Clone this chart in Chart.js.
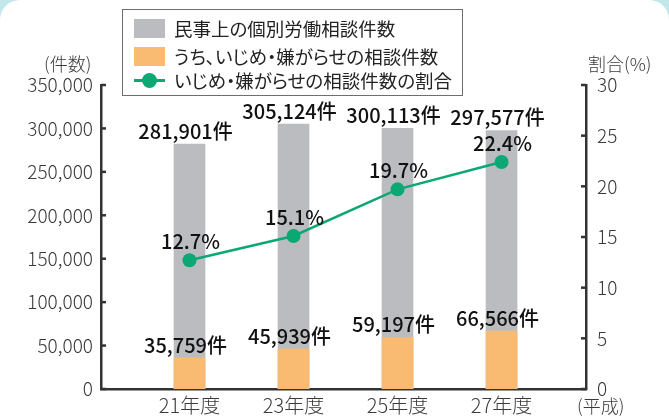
<!DOCTYPE html>
<html lang="ja">
<head>
<meta charset="utf-8">
<script src="https://cdn.jsdelivr.net/npm/chart.js@4.4.1/dist/chart.umd.min.js"></script>
<style>
  html, body { margin: 0; padding: 0; }
  body { width: 669px; height: 417px; background: #c2e7e9; position: relative; overflow: hidden;
         font-family: "Noto Sans CJK JP", "Noto Sans", sans-serif; }
  #panel { position: absolute; left: 0; top: 0; width: 669px; height: 440px; background: #fff;
           border-radius: 20px 20px 0 0; }
  #chart { position: absolute; left: 0; top: 0; }
  .note { position: absolute; color: #3a3a3a; font-size: 18px; font-weight: 300; white-space: nowrap; line-height: 1; }
  #legend { position: absolute; left: 122px; top: 9px; width: 341px; height: 87px;
            border: 1.5px solid #6e6e6e; box-sizing: border-box; background: #fff; }
  .item { position: absolute; left: 11px; height: 20px; display: flex; align-items: center;
          font-size: 18.5px; color: #222; white-space: nowrap; font-feature-settings: "palt"; }
  .item .sw { width: 31px; height: 19px; margin-right: 9px; position: relative; }
</style>
</head>
<body>
<div id="panel"></div>
<canvas id="chart" width="669" height="417"></canvas>
<div class="note" style="left:44px; top:54px;">(件数)</div>
<div class="note" style="left:588px; top:54px;">割合(%)</div>
<div class="note" style="left:577px; top:396px;">(平成)</div>
<div id="legend"></div>
<script>
(function () {
    var categories = ["21年度", "23年度", "25年度", "27年度"];
    var totalCases = [281901, 305124, 300113, 297577];
    var bullyingCases = [35759, 45939, 59197, 66566];
    var bullyingShare = [12.7, 15.1, 19.7, 22.4];
    var seriesNames = ["民事上の個別労働相談件数", "うち、いじめ・嫌がらせの相談件数", "いじめ・嫌がらせの相談件数の割合"];
    var leftTicks = [0, 50000, 100000, 150000, 200000, 250000, 300000, 350000];
    var rightTicks = [0, 5, 10, 15, 20, 25, 30];

    var GRAY = "#bbbcc0", ORANGE = "#f9ba72", GREEN = "#0ba874", AXIS = "#333333";
    var tickFont = { family: "'Noto Sans CJK JP', sans-serif", size: 19, weight: 300 };

    function pts(arr) {
        return arr.map(function (v, i) { return { x: i, y: v }; });
    }

    // legend, built from the series names
    var legend = document.getElementById("legend");
    var rows = [{ top: 8, kind: "box", color: GRAY }, { top: 36, kind: "box", color: ORANGE }, { top: 60, kind: "line", color: GREEN }];
    rows.forEach(function (r, i) {
        var d = document.createElement("div");
        d.className = "item";
        d.style.top = r.top + "px";
        var sw = document.createElement("span");
        sw.className = "sw";
        if (r.kind === "box") {
            sw.style.background = r.color;
        } else {
            sw.innerHTML = '<span style="position:absolute;left:0;right:0;top:8px;height:3px;background:' + r.color + '"></span>' +
                '<span style="position:absolute;left:8px;top:2px;width:15px;height:15px;border-radius:50%;background:' + r.color + '"></span>';
        }
        d.appendChild(sw);
        d.appendChild(document.createTextNode(seriesNames[i]));
        legend.appendChild(d);
    });

    var innerTicks = {
        id: "innerTicks",
        afterDraw: function (chart) {
            var ctx = chart.ctx, area = chart.chartArea;
            ctx.save();
            ctx.strokeStyle = AXIS;
            ctx.lineWidth = 2.5;
            chart.scales.y.ticks.forEach(function (t) {
                var y = chart.scales.y.getPixelForValue(t.value);
                ctx.beginPath(); ctx.moveTo(area.left, y); ctx.lineTo(area.left + 5, y); ctx.stroke();
            });
            chart.scales.y1.ticks.forEach(function (t) {
                var y = chart.scales.y1.getPixelForValue(t.value);
                ctx.beginPath(); ctx.moveTo(area.right, y); ctx.lineTo(area.right - 5, y); ctx.stroke();
            });
            ctx.restore();
        }
    };

    var valueLabels = {
        id: "valueLabels",
        afterDatasetsDraw: function (chart) {
            var ctx = chart.ctx;
            ctx.save();
            ctx.fillStyle = "#111";
            ctx.font = "500 20px 'Noto Sans CJK JP', sans-serif";
            ctx.textAlign = "center";
            ctx.textBaseline = "middle";
            chart.data.datasets.forEach(function (ds, di) {
                var meta = chart.getDatasetMeta(di);
                meta.data.forEach(function (el, i) {
                    var v = ds.data[i].y;
                    if (ds.type === "line") {
                        ctx.fillText(v.toFixed(1) + "%", el.x + 1, el.y - 19);
                    } else {
                        ctx.fillText(v.toLocaleString("en-US") + "件", el.x - 4, el.y - 13);
                    }
                });
            });
            ctx.restore();
        }
    };

    new Chart(document.getElementById("chart"), {
        data: {
            datasets: [
                {
                    type: "line",
                    label: seriesNames[2],
                    data: pts(bullyingShare),
                    yAxisID: "y1",
                    borderColor: GREEN,
                    backgroundColor: GREEN,
                    borderWidth: 2.5,
                    pointRadius: 7,
                    pointHoverRadius: 7,
                    pointBorderWidth: 0,
                    order: 1,
                },
                {
                    type: "bar",
                    label: seriesNames[1],
                    data: pts(bullyingCases),
                    yAxisID: "y",
                    backgroundColor: ORANGE,
                    barThickness: 31,
                    grouped: false,
                    order: 2,
                },
                {
                    type: "bar",
                    label: seriesNames[0],
                    data: pts(totalCases),
                    yAxisID: "y",
                    backgroundColor: GRAY,
                    barThickness: 31,
                    grouped: false,
                    order: 3,
                },
            ],
        },
        options: {
            responsive: false,
            animation: false,
            layout: { padding: { top: 85, left: 0, right: 0, bottom: 0 } },
            plugins: { legend: { display: false }, tooltip: { enabled: false } },
            scales: {
                x: {
                    type: "linear",
                    offset: false,
                    min: -0.851,
                    max: 3.812,
                    afterBuildTicks: function (s) {
                        s.ticks = categories.map(function (c, i) { return { value: i }; });
                    },
                    afterFit: function (s) { s.height = 28; },
                    ticks: {
                        callback: function (v) { return categories[v]; },
                        color: "#3a3a3a",
                        font: { family: tickFont.family, size: 20, weight: 300 },
                        padding: 4,
                        maxRotation: 0,
                    },
                    grid: { display: false, drawTicks: false, offset: false },
                    border: { color: AXIS, width: 2.5 },
                },
                y: {
                    position: "left",
                    min: 0,
                    max: 350000,
                    afterBuildTicks: function (s) {
                        s.ticks = leftTicks.map(function (v) { return { value: v }; });
                    },
                    afterFit: function (s) { s.width = 101; },
                    ticks: {
                        callback: function (v) { return v.toLocaleString("en-US"); },
                        color: "#3a3a3a",
                        font: tickFont,
                        padding: 8,
                    },
                    grid: { display: false, drawTicks: false },
                    border: { color: AXIS, width: 2.5 },
                },
                y1: {
                    position: "right",
                    min: 0,
                    max: 30,
                    afterBuildTicks: function (s) {
                        s.ticks = rightTicks.map(function (v) { return { value: v }; });
                    },
                    afterFit: function (s) { s.width = 83; },
                    ticks: {
                        color: "#3a3a3a",
                        font: tickFont,
                        padding: 11,
                    },
                    grid: { display: false, drawTicks: false },
                    border: { color: AXIS, width: 2.5 },
                },
            },
        },
        plugins: [innerTicks, valueLabels],
    });
})();
</script>
</body>
</html>
